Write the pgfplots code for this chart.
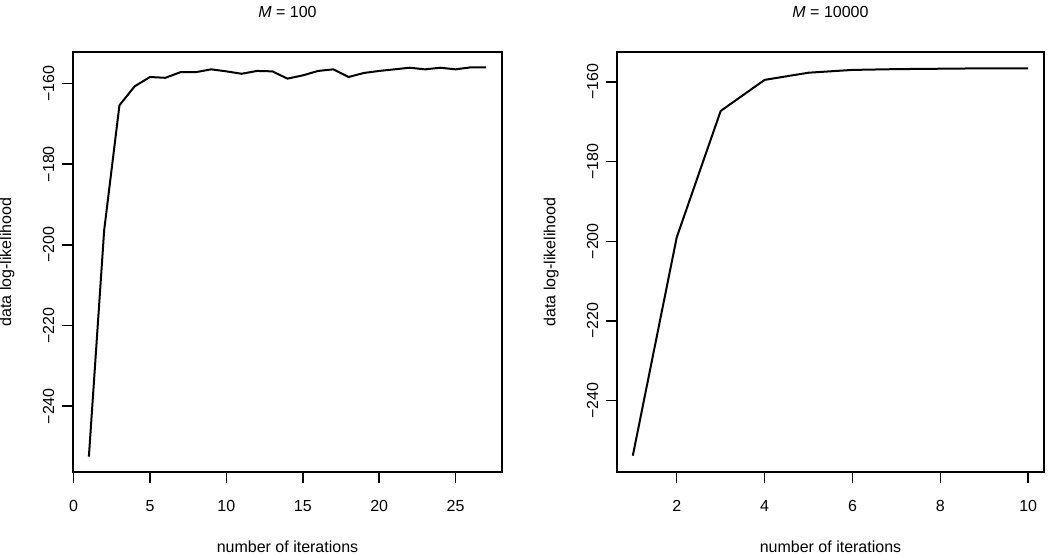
\documentclass[border=0pt]{standalone}
\usepackage{fontspec}
\setmainfont{Liberation Sans}
\usepackage{pgfplots}
\pgfplotsset{compat=1.18}

% log-likelihood per EM iteration, M = 100
\pgfplotstableread{
it  ll
1   -252.5
2   -196.4
3   -165.4
4   -160.7
5   -158.4
6   -158.6
7   -157.2
8   -157.2
9   -156.5
10  -157.0
11  -157.6
12  -156.9
13  -157.0
14  -158.8
15  -158.0
16  -156.9
17  -156.5
18  -158.4
19  -157.4
20  -156.9
21  -156.5
22  -156.1
23  -156.5
24  -156.1
25  -156.5
26  -156.0
27  -156.0
}\smallM

% M = 10000
\pgfplotstableread{
it  ll
1   -253.8
2   -199.0
3   -167.3
4   -159.5
5   -157.7
6   -157.0
7   -156.8
8   -156.7
9   -156.6
10  -156.6
}\bigM

\pgfplotsset{
  rplot/.style={
    scale only axis,
    width=321.75pt, height=315pt,
    axis line style={line width=1.1pt},
    tick style={line width=1.1pt, black},
    tick align=outside,
    major tick length=8.25pt,
    xtick pos=bottom, ytick pos=left,
    font=\fontsize{12}{14}\selectfont,
    xticklabel style={anchor=center, yshift=-17pt},
    yticklabel style={anchor=center, xshift=-10pt, rotate=90},
    ylabel={data log-likelihood},
    xlabel={number of iterations},
    xlabel style={at={(axis description cs:0.5,-0.1786)}, anchor=center},
    ylabel style={at={(axis description cs:-0.154,0.5)}, anchor=center},
    title style={at={(axis description cs:0.5,1.0762)}, anchor=center},
    ytick={-240,-220,-200,-180,-160},
    yticklabels={−240,−220,−200,−180,−160},
  },
  curve/.style={black, line width=1.5pt, line join=round},
}

\begin{document}
\begin{tikzpicture}
\useasboundingbox (-54.75pt,-62.25pt) rectangle (732.75pt,354pt);

\begin{axis}[rplot,
  title={\textit{M} = 100},
  xmin=-0.04, xmax=28.04,
  ymin=-256.3, ymax=-152.2,
  xtick={0,5,10,15,20,25},
  xticklabels={0,5,10,15,20,25},
]
\addplot[curve] table[x=it, y=ll] {\smallM};
\end{axis}

\begin{axis}[rplot,
  at={(408pt,0pt)},
  width=320.25pt,
  title={\textit{M} = 10000},
  xmin=0.64, xmax=10.36,
  ymin=-257.9, ymax=-152.5,
  xtick={2,4,6,8,10},
  xticklabels={2,4,6,8,10},
]
\addplot[curve] table[x=it, y=ll] {\bigM};
\end{axis}
\end{tikzpicture}
\end{document}
